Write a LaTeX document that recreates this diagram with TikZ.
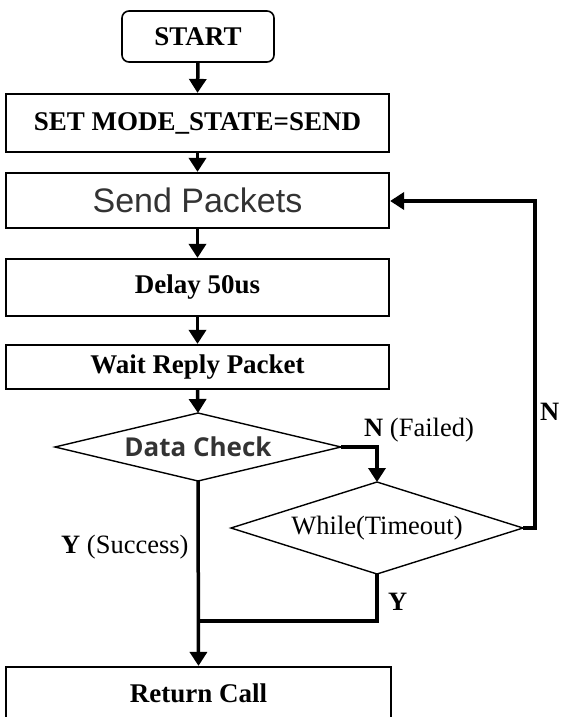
\documentclass[tikz,border=0pt]{standalone}
\usepackage{fontspec}
\setmainfont{Liberation Serif}
\newfontfamily\arialfont{Liberation Sans}
\newfontfamily\opensans{Open Sans}
\usetikzlibrary{arrows.meta,shapes.geometric,calc}
\begin{document}
\begin{tikzpicture}[x=1pt,y=-1pt,
  box/.style={draw,line width=2.2pt,minimum width=383pt,inner sep=0pt,
    font=\fontsize{27}{30}\selectfont\bfseries},
  conn/.style={line width=3.5pt,-{Triangle[length=14pt,width=17pt]}},
  line/.style={line width=3.5pt},
  lbl/.style={inner sep=0pt,font=\fontsize{26.5}{30}\selectfont}
]
\useasboundingbox (0,0) rectangle (560,717);
\clip (0,0) rectangle (560,717);
% nodes
\node[draw,line width=1.6pt,rounded corners=7pt,minimum width=152pt,minimum height=51pt,inner sep=0pt,
  font=\fontsize{27}{30}\selectfont\bfseries] (start) at (198,36.5) {START};
\node[box,minimum height=58pt] (set) at (197.5,123) {SET MODE\_STATE=SEND};
\node[box,minimum height=55pt,font=\fontsize{34}{36}\selectfont\arialfont,text=black!80] (send) at (197.5,200.5) {Send Packets};
\node[box,minimum height=57pt] (delay) at (197.5,287.5) {Delay 50us};
\node[box,minimum height=44pt] (wait) at (197.5,367) {Wait Reply Packet};
\coordinate (dcc) at (198,447);
\draw[line width=1.4pt] (55,447) -- (198,413) -- (341,447) -- (198,481) -- cycle;
\node[inner sep=0pt,font=\fontsize{26}{30}\selectfont\opensans\bfseries,text=black!80] (dc) at (dcc) {Data Check};
\coordinate (dcl) at (55,447);
\coordinate (dcr) at (341,447);
\coordinate (dct) at (198,413);
\coordinate (dcb) at (198,481);
\draw[line width=1.4pt] (231,528) -- (377,482) -- (523,528) -- (377,574) -- cycle;
\node[inner sep=0pt,font=\fontsize{26.5}{30}\selectfont] (wh) at (377,528) {While(Timeout)};
\coordinate (wht) at (377,482);
\coordinate (whb) at (377,574);
\coordinate (whr) at (523,528);
\node[box,minimum height=60pt,minimum width=385pt] (ret) at (198.5,697) {};
\node[lbl,font=\fontsize{27}{30}\selectfont\bfseries] (rettxt) at (198.5,693) {Return Call};
% connectors
\draw[conn] (start.south) -- (set.north);
\draw[conn] (set.south) -- (send.north);
\draw[conn] (send.south) -- (delay.north);
\draw[conn] (delay.south) -- (wait.north);
\draw[conn] (wait.south) -- (dct);
\draw[conn] (dcr) -| (wht);
\coordinate (loopc) at (535,201);
\draw[conn] (whr) -- (535,528) -- (loopc) -- (send.east |- loopc);
\coordinate (join) at (198,621);
\draw[line] (whb) |- (join);
\draw[conn] (dcb) -- (ret.north);
% labels
\node[lbl,anchor=west] (nf) at (364,430) {\textbf{N} (Failed)};
\node[lbl,anchor=east] (n) at (559.5,412) {\textbf{N}};
\node[lbl,anchor=west] (ys) at (61,547) {\textbf{Y} (Success)};
\node[lbl,anchor=west] (y) at (388,602) {\textbf{Y}};
\end{tikzpicture}
\end{document}
